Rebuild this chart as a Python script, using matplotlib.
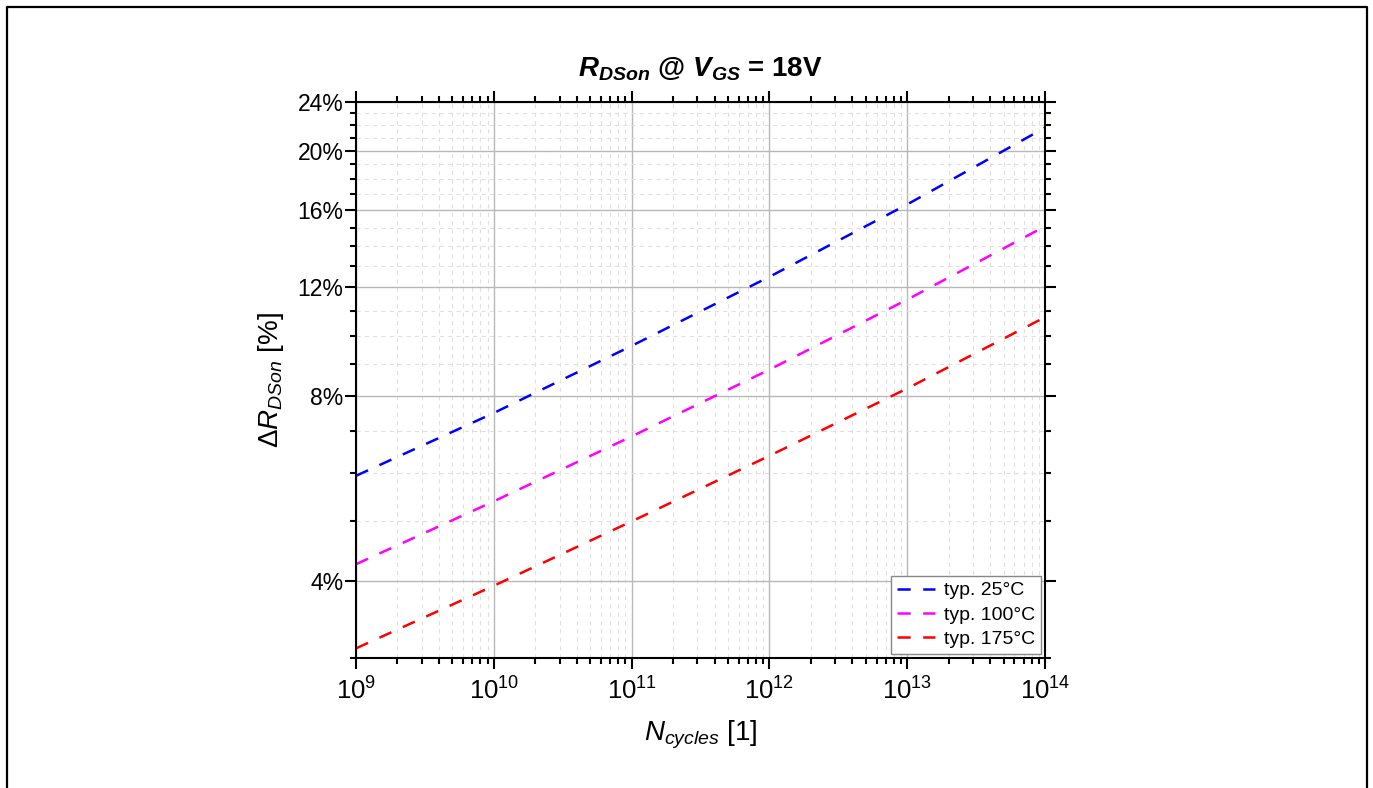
import matplotlib
matplotlib.use('Agg')
import matplotlib.pyplot as plt
from matplotlib.lines import Line2D
from matplotlib.ticker import FixedLocator, FixedFormatter, LogLocator, NullFormatter

plt.rcParams['font.family'] = ['Liberation Sans', 'DejaVu Sans']
plt.rcParams['mathtext.fontset'] = 'custom'
plt.rcParams['mathtext.rm'] = 'Liberation Sans'
plt.rcParams['mathtext.it'] = 'Liberation Sans:italic'
plt.rcParams['mathtext.bf'] = 'Liberation Sans:bold'
plt.rcParams['mathtext.bfit'] = 'Liberation Sans:bold:italic'
plt.rcParams['lines.scale_dashes'] = False

# data (delta R_DSon in % vs number of cycles)
n_cycles = [1e9, 1e10, 1e11, 1e12, 1e13, 1e14]
r_25 = [5.93, 7.50, 9.64, 12.48, 16.36, 21.8]
r_100 = [4.26, 5.39, 6.87, 8.82, 11.46, 15.07]
r_175 = [3.11, 3.93, 5.00, 6.39, 8.22, 10.73]

series = [
    ('typ. 25°C', r_25, '#0000ff'),
    ('typ. 100°C', r_100, '#ff00ff'),
    ('typ. 175°C', r_175, '#ff0000'),
]

y_major = [4, 8, 12, 16, 20, 24]
y_minor = [3, 5, 6, 7, 9, 10, 11, 13, 14, 15, 17, 18, 19, 21, 22, 23]

fig = plt.figure(figsize=(13.73, 7.88), dpi=100)
ax = fig.add_axes([0.2593, 0.165, 0.5018, 0.7056])

for label, vals, col in series:
    ax.plot(n_cycles, vals, color=col, lw=1.8, dashes=(9.5, 9), label=label)

ax.set_xscale('log')
ax.set_yscale('log')
ax.set_xlim(1e9, 1e14)
ax.set_ylim(3, 24)

ax.xaxis.set_major_locator(LogLocator(base=10, numticks=10))
ax.xaxis.set_minor_locator(LogLocator(base=10, subs=range(2, 10), numticks=20))
ax.xaxis.set_minor_formatter(NullFormatter())
ax.yaxis.set_major_locator(FixedLocator(y_major))
ax.yaxis.set_major_formatter(FixedFormatter(['%d%%' % v for v in y_major]))
ax.yaxis.set_minor_locator(FixedLocator(y_minor))
ax.yaxis.set_minor_formatter(NullFormatter())

ax.tick_params(which='both', direction='out', top=True, right=True, width=1.5, color='black')
ax.tick_params(which='major', length=8)
ax.tick_params(which='minor', length=4)
ax.tick_params(axis='x', which='major', labelsize=18.5, pad=6)
ax.tick_params(axis='y', which='major', labelsize=16.5, pad=1)

for sp in ax.spines.values():
    sp.set_linewidth(1.5)

ax.grid(which='major', color='#b8b8b8', lw=1.0, ls='-')
ax.grid(which='minor', color='#e0e0e0', lw=0.8, ls=(0, (3, 3)))
ax.set_axisbelow(True)

ax.set_title(r'$\mathbfit{R}_{\mathbfit{DSon}}$ @ $\mathbfit{V}_{\mathbfit{GS}}$ = 18V',
             fontsize=20, fontweight='bold', pad=18)
ax.set_xlabel(r'$\mathit{N}_{\mathit{cycles}}$ [1]', fontsize=20, labelpad=10)
ax.set_ylabel(r'$\Delta\mathit{R}_{\mathit{DSon}}$ [%]', fontsize=20, labelpad=8)

leg = ax.legend(loc='lower right', fontsize=14, frameon=True, fancybox=False,
                edgecolor='#888888', framealpha=1, borderpad=0.3, labelspacing=0.35,
                handlelength=2.0, handletextpad=0.45, borderaxespad=0.2)
leg.get_frame().set_linewidth(1.0)

# outer frame around the figure (open at the bottom)
fx = [7 / 1373, 7 / 1373, 1367 / 1373, 1367 / 1373]
fy = [-0.05, 1 - 7 / 788, 1 - 7 / 788, -0.05]
fig.add_artist(Line2D(fx, fy, transform=fig.transFigure, color='black', lw=1.6))

fig.savefig('out.png', dpi=100)
